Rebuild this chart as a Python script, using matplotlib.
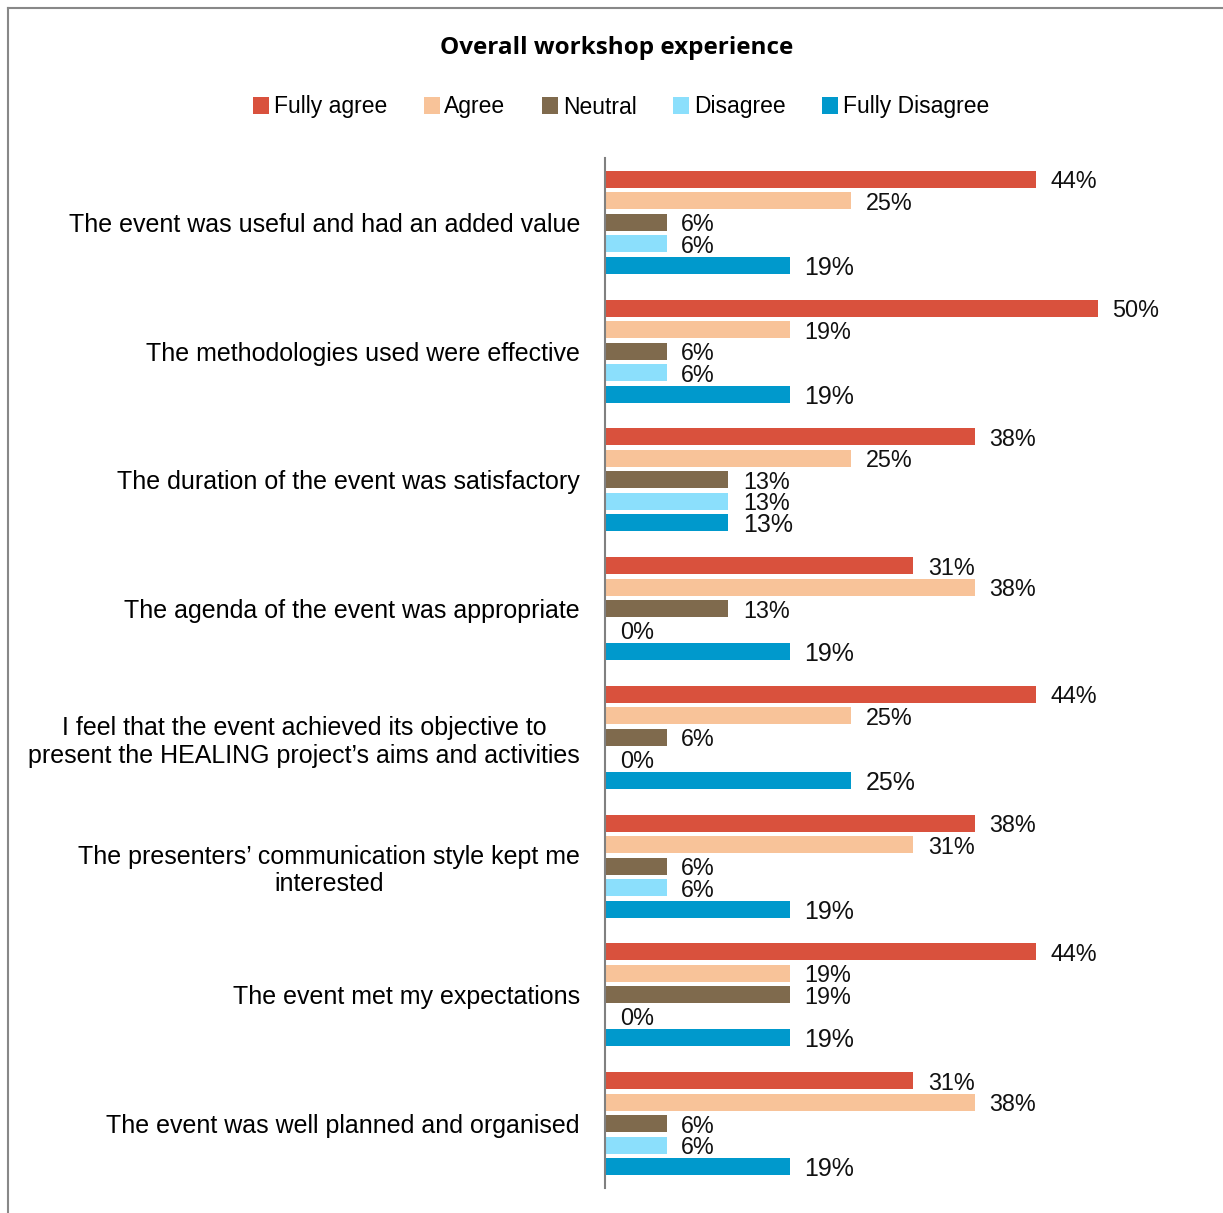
import matplotlib
matplotlib.use("Agg")
import matplotlib.pyplot as plt
from matplotlib.lines import Line2D
from matplotlib.patches import Patch
import numpy as np

plt.rcParams['font.family'] = ['Liberation Sans', 'DejaVu Sans']

statements = [
    "The event was useful and had an added value",
    "The methodologies used were effective",
    "The duration of the event was satisfactory",
    "The agenda of the event was appropriate",
    "I feel that the event achieved its objective to\npresent the HEALING project\u2019s aims and activities",
    "The presenters\u2019 communication style kept me\ninterested",
    "The event met my expectations",
    "The event was well planned and organised",
]
series = ["Fully agree", "Agree", "Neutral", "Disagree", "Fully Disagree"]
colors = ["#D9513D", "#F8C399", "#7F6A4D", "#8BDFFC", "#0099CC"]

# shares in % (16 respondents), labels are shown rounded
fully_agree    = [43.75, 50.0, 37.5, 31.25, 43.75, 37.5, 43.75, 31.25]
agree          = [25.0, 18.75, 25.0, 37.5, 25.0, 31.25, 18.75, 37.5]
neutral        = [6.25, 6.25, 12.5, 12.5, 6.25, 6.25, 18.75, 6.25]
disagree       = [6.25, 6.25, 12.5, 0.0, 0.0, 6.25, 0.0, 6.25]
fully_disagree = [18.75, 18.75, 12.5, 18.75, 25.0, 18.75, 18.75, 18.75]
values = [fully_agree, agree, neutral, disagree, fully_disagree]

W, H = 1223, 1213
fig = plt.figure(figsize=(W / 100, H / 100), dpi=100)
ax = fig.add_axes([605 / W, 25 / H, 542 / W, 1030 / H])

y = np.arange(len(statements))
step = 0.167
for j, (name, vals, col) in enumerate(zip(series, values, colors)):
    pos = y + (j - 2) * step
    ax.barh(pos, vals, height=0.132, color=col, label=name)
    fs = 18 if j == 4 else 16.8
    for p, v in zip(pos, vals):
        ax.text(v + 1.5, p + 0.02, f"{int(np.floor(v + 0.5))}%", va="center", ha="left",
                fontsize=fs, color="#111111")

ax.set_xlim(0, 55)
ax.set_ylim(len(statements) - 0.5, -0.5)
ax.set_yticks(y)
ax.set_yticklabels(statements, fontsize=18, multialignment="center")
ax.tick_params(axis="y", length=0, pad=18)
ax.set_xticks([])
for s in ["top", "right", "bottom"]:
    ax.spines[s].set_visible(False)
ax.spines["left"].set_color("#808080")
ax.spines["left"].set_linewidth(1.5)

fig.text(617 / W, 1 - 48 / H, "Overall workshop experience", ha="center", va="center",
         fontsize=17.5, fontweight="bold", family=["Open Sans", "DejaVu Sans"])

handles = [Patch(facecolor=c, edgecolor="none") for c in colors]
fig.legend(handles, series, loc="center", bbox_to_anchor=(621 / W, 1 - 107 / H), ncol=5,
           frameon=False, fontsize=16.5, handlelength=0.7, handleheight=0.7,
           handletextpad=0.2, columnspacing=1.6)

fig.add_artist(Line2D([8 / W, 8 / W], [0, 1 - 8 / H], color="#888888", lw=1.5))
fig.add_artist(Line2D([8 / W, 1], [1 - 8 / H, 1 - 8 / H], color="#888888", lw=1.5))

fig.savefig("out.png", dpi=100)
